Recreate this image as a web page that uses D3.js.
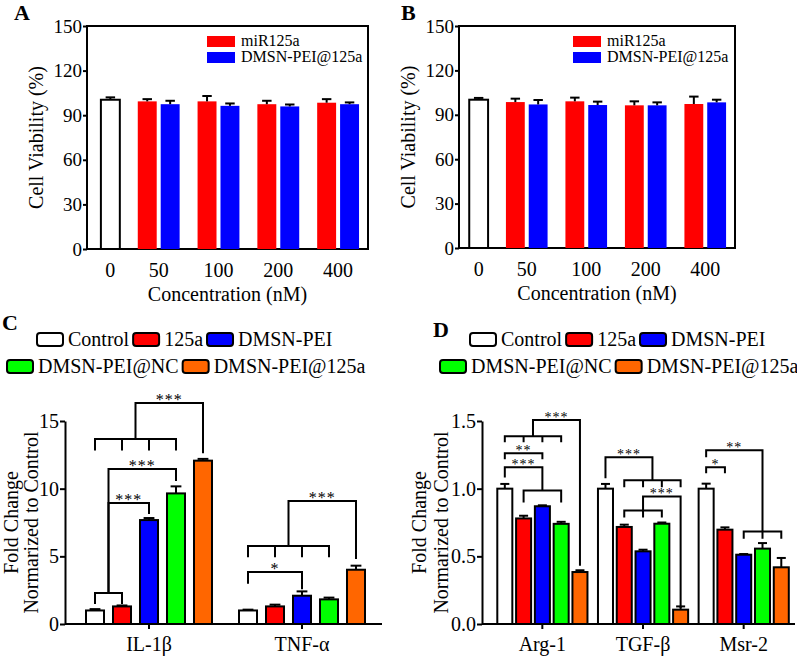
<!DOCTYPE html>
<html>
<head>
<meta charset="UTF-8">
<title>Cell viability and fold change</title>
<script src="https://d3js.org/d3.v7.min.js"></script>
<style>
  * { padding:0; margin:0; }
  body { background:#fff; }
  svg, svg text { font-family: "Liberation Serif", "Tinos", "DejaVu Serif", "Times New Roman", serif !important; fill:#000; }
  .axis path, .axis line { stroke:#000; stroke-width:2px; }
  .axis text { font-size:19px; }
  .br { fill:none; stroke:#000; stroke-width:2px; stroke-linecap:square; }
  .eb { stroke:#000; stroke-width:2px; }
</style>
</head>
<body>
<svg id="main" width="797" height="656"></svg>
<script>
// ---- panels A / B: cell viability ----
const concs = ["0", "50", "100", "200", "400"];
const vSeries = ["miR125a", "DMSN-PEI@125a"];
const vColors = ["#ff0000", "#0000ff"];
const vTicks = [0, 30, 60, 90, 120, 150];

const ctrlA = 100.4, ctrlAErr = 1.6;
const mirA = [99.3, 99.3, 97.4, 98.4];
const mirAErr = [1.5, 3.6, 2.3, 2.4];
const peiA = [97.4, 96.3, 95.9, 97.4];
const peiAErr = [2.3, 1.6, 1.3, 1.2];

const ctrlB = 100.2, ctrlBErr = 1.2;
const mirB = [98.6, 99.1, 96.4, 97.3];
const mirBErr = [2.3, 2.5, 2.7, 5.0];
const peiB = [97.0, 96.6, 96.4, 98.4];
const peiBErr = [3.0, 2.3, 2.0, 1.8];

// ---- panels C / D: fold change ----
const treatments = ["Control", "125a", "DMSN-PEI", "DMSN-PEI@NC", "DMSN-PEI@125a"];
const tColors = ["#ffffff", "#ff0000", "#0000ff", "#00ff00", "#ff6600"];

const genesC = ["IL-1β", "TNF-α"];
const foldC = [[1.0, 1.3, 7.68, 9.65, 12.07], [1.0, 1.3, 2.09, 1.82, 4.01]];
const foldCErr = [[0.1, 0.07, 0.15, 0.52, 0.13], [0.06, 0.13, 0.32, 0.13, 0.3]];

const genesD = ["Arg-1", "TGF-β", "Msr-2"];
const foldD = [[1.0, 0.78, 0.87, 0.74, 0.384], [1.0, 0.717, 0.537, 0.741, 0.106], [1.0, 0.697, 0.512, 0.557, 0.419]];
const foldDErr = [[0.035, 0.02, 0.007, 0.015, 0.013], [0.035, 0.017, 0.012, 0.009, 0.024], [0.037, 0.017, 0.005, 0.041, 0.069]];

// significance brackets (levels in data units)
const sigC = [
  {g: "IL-1β", a: {bars: ["Control", "125a"], y: 2.29, drop: 1.55}, b: {bars: ["DMSN-PEI"], drop: 8.2}, y: 8.94, t: "***"},
  {g: "IL-1β", a: {bars: ["Control", "125a"], y: 2.29, drop: 1.55}, b: {bars: ["DMSN-PEI@NC"], drop: 10.64}, y: 11.46, t: "***"},
  {g: "IL-1β", a: {bars: ["Control", "125a", "DMSN-PEI", "DMSN-PEI@NC"], y: 13.67, drop: 12.9}, b: {bars: ["DMSN-PEI@125a"], drop: 12.7}, y: 16.33, t: "***"},
  {g: "TNF-α", a: {bars: ["Control"], drop: 3.05}, b: {bars: ["DMSN-PEI"], drop: 2.65}, y: 3.84, t: "*"},
  {g: "TNF-α", a: {bars: ["Control", "125a", "DMSN-PEI", "DMSN-PEI@NC"], y: 5.76, drop: 5.0}, b: {bars: ["DMSN-PEI@125a"], drop: 4.88}, y: 9.09, t: "***"}
];
const sigD = [
  {g: "Arg-1", a: {bars: ["Control", "125a", "DMSN-PEI", "DMSN-PEI@NC"], y: 1.388, drop: 1.351}, b: {bars: ["DMSN-PEI@125a"], drop: 0.438}, y: 1.507, t: "***"},
  {g: "Arg-1", a: {bars: ["Control"], drop: 1.225}, b: {bars: ["DMSN-PEI"], drop: 1.225}, y: 1.262, t: "**"},
  {g: "Arg-1", a: {bars: ["Control"], drop: 1.09}, b: {bars: ["125a", "DMSN-PEI@NC"], y: 0.987, drop: 0.906}, y: 1.158, t: "***"},
  {g: "TGF-β", a: {bars: ["Control"], drop: 1.084}, b: {bars: ["125a", "DMSN-PEI", "DMSN-PEI@NC", "DMSN-PEI@125a"], y: 1.062, drop: 1.017}, y: 1.232, t: "***"},
  {g: "TGF-β", a: {bars: ["125a", "DMSN-PEI", "DMSN-PEI@NC"], y: 0.839, drop: 0.794}, b: {bars: ["DMSN-PEI@125a"], drop: 0.126}, y: 0.943, t: "***"},
  {g: "Msr-2", a: {bars: ["Control"], drop: 1.121}, b: {bars: ["125a"], drop: 1.121}, y: 1.158, t: "*"},
  {g: "Msr-2", a: {bars: ["Control"], drop: 1.24}, b: {bars: ["DMSN-PEI", "DMSN-PEI@NC", "DMSN-PEI@125a"], y: 0.683, drop: 0.638}, y: 1.284, t: "**"}
];

const svg = d3.select("#main");

function errorBar(g, cx, w, y0, y1) {
    g.append("line").attr("class", "eb").attr("x1", cx).attr("x2", cx).attr("y1", y0).attr("y2", y1);
    g.append("line").attr("class", "eb").attr("x1", cx - w / 2).attr("x2", cx + w / 2).attr("y1", y1).attr("y2", y1);
}

function viability(o) {
    const g = svg.append("g");
    const y = d3.scaleLinear().domain([0, 150]).range([o.bottom, o.top]);
    const x0 = d3.scaleBand().domain(concs).range([o.right - 5 * o.step, o.right]);
    const x1 = d3.scaleBand().domain(vSeries).range([0.15 * o.step, 0.85 * o.step]).paddingInner(0.174);
    const bw = x1.bandwidth();

    // frame
    g.append("rect").attr("x", o.left).attr("y", o.top)
        .attr("width", o.right - o.left).attr("height", o.bottom - o.top)
        .attr("fill", "none").attr("stroke", "#000").attr("stroke-width", 2);

    // control bar sits in the second slot of its group
    const cxCtrl = x0("0") + x1(vSeries[1]);
    g.append("rect").attr("x", cxCtrl).attr("y", y(o.ctrl)).attr("width", bw)
        .attr("height", y(0) - y(o.ctrl)).attr("fill", "#fff").attr("stroke", "#000").attr("stroke-width", 2);
    errorBar(g, cxCtrl + bw / 2, bw * 0.5, y(o.ctrl), y(o.ctrl + o.ctrlErr));

    const rows = concs.slice(1).map((c, i) => ({c, vals: [[o.mir[i], o.mirErr[i]], [o.pei[i], o.peiErr[i]]]}));
    rows.forEach(r => {
        r.vals.forEach((v, j) => {
            const xx = x0(r.c) + x1(vSeries[j]);
            g.append("rect").attr("x", xx).attr("y", y(v[0])).attr("width", bw)
                .attr("height", y(0) - y(v[0])).attr("fill", vColors[j]);
            errorBar(g, xx + bw / 2, bw * 0.5, y(v[0]), y(v[0] + v[1]));
        });
    });

    const ya = g.append("g").attr("class", "axis").attr("transform", `translate(${o.left},0)`)
        .call(d3.axisLeft(y).tickValues(vTicks).tickSize(4).tickPadding(1).tickSizeOuter(0));
    ya.select(".domain").remove();

    const xa = g.append("g").attr("class", "axis").attr("transform", `translate(0,${o.bottom})`)
        .call(d3.axisBottom(x0).tickSize(0).tickPadding(14));
    xa.select(".domain").remove();
    xa.selectAll("text").style("font-size", "20px");
    xa.selectAll(".tick").filter(d => d === "0").attr("transform", `translate(${cxCtrl + bw / 2},0)`);

    g.append("text").attr("x", (o.left + o.right) / 2).attr("y", o.bottom + 52)
        .attr("text-anchor", "middle").style("font-size", "20px").text("Concentration (nM)");
    g.append("text").attr("transform", `translate(${o.left - 44},${(o.top + o.bottom) / 2}) rotate(-90)`)
        .attr("text-anchor", "middle").style("font-size", "20px").text("Cell Viability (%)");
    g.append("text").attr("x", o.labX).attr("y", 20).style("font-size", "22px").style("font-weight", "bold").text(o.label);

    // legend
    vSeries.forEach((s, i) => {
        g.append("rect").attr("x", o.legX).attr("y", 36 + i * 16).attr("width", 28).attr("height", 11).attr("fill", vColors[i]);
        g.append("text").attr("x", o.legX + 34).attr("y", 46 + i * 16).style("font-size", "16px").text(s);
    });
}

viability({left: 87, right: 368, top: 26, bottom: 249, step: 59.8, ctrl: ctrlA, ctrlErr: ctrlAErr,
    mir: mirA, mirErr: mirAErr, pei: peiA, peiErr: peiAErr, label: "A", labX: 14, legX: 207});
viability({left: 459, right: 735, top: 26, bottom: 248, step: 59.5, ctrl: ctrlB, ctrlErr: ctrlBErr,
    mir: mirB, mirErr: mirBErr, pei: peiB, peiErr: peiBErr, label: "B", labX: 401, legX: 573});

function foldPanel(o) {
    const g = svg.append("g");
    const y = d3.scaleLinear().domain([0, o.max]).range([624, 421]);
    const x0 = d3.scaleBand().domain(o.genes).range(o.xr);
    const step = x0.step();
    const x1 = d3.scaleBand().domain(treatments).range([o.inner[0] * step, o.inner[1] * step]).paddingInner(o.pad);
    const bw = x1.bandwidth();
    const cx = (gene, t) => x0(gene) + x1(t) + bw / 2;

    o.genes.forEach((gene, gi) => {
        treatments.forEach((t, ti) => {
            const v = o.vals[gi][ti], e = o.errs[gi][ti];
            errorBar(g, cx(gene, t), bw * 0.6, y(v), y(v + e));
            g.append("rect").attr("x", x0(gene) + x1(t)).attr("y", y(v)).attr("width", bw)
                .attr("height", y(0) - y(v)).attr("fill", tColors[ti]).attr("stroke", "#000").attr("stroke-width", 2);
        });
    });

    const ya = g.append("g").attr("class", "axis").attr("transform", `translate(${o.axisX},0)`)
        .call(d3.axisLeft(y).tickValues(o.ticks).tickFormat(o.fmt).tickSize(5).tickPadding(1).tickSizeOuter(0));
    ya.selectAll("text").style("font-size", "20px");
    const xa = g.append("g").attr("class", "axis").attr("transform", "translate(0,624)")
        .call(d3.axisBottom(x0).tickSize(5).tickPadding(8).tickSizeOuter(0));
    xa.select(".domain").attr("d", `M${o.axisX},0H${o.axisEnd}`);
    xa.selectAll("text").style("font-size", "20px");

    // y label, two lines
    const mid = (421 + 624) / 2;
    g.append("text").attr("transform", `translate(${o.yl[0]},${mid}) rotate(-90)`)
        .attr("text-anchor", "middle").style("font-size", "20px").text("Fold Change");
    g.append("text").attr("transform", `translate(${o.yl[1]},${mid}) rotate(-90)`)
        .attr("text-anchor", "middle").style("font-size", "20px").text("Normarized to Control");

    // brackets
    o.sig.forEach(s => {
        const at = e => (cx(s.g, e.bars[0]) + cx(s.g, e.bars[e.bars.length - 1])) / 2;
        const xa2 = at(s.a), xb2 = at(s.b), yy = y(s.y);
        let d = `M${xa2},${yy}H${xb2}`;
        [s.a, s.b].forEach(e => {
            const xe = at(e);
            if (e.y == null) {
                d += `M${xe},${yy}V${y(e.drop)}`;
            } else {
                d += `M${xe},${yy}V${y(e.y)}`;
                d += `M${cx(s.g, e.bars[0])},${y(e.y)}H${cx(s.g, e.bars[e.bars.length - 1])}`;
                e.bars.forEach(n => { d += `M${cx(s.g, n)},${y(e.y)}V${y(e.drop)}`; });
            }
        });
        g.append("path").attr("class", "br").attr("d", d);
        g.append("text").attr("x", (xa2 + xb2) / 2).attr("y", yy + 2).attr("text-anchor", "middle")
            .style("font-size", o.starSize + "px").style("letter-spacing", "1px").text(s.t);
    });

    g.append("text").attr("x", o.labX).attr("y", o.labY).style("font-size", "22px").style("font-weight", "bold").text(o.label);

    // legend in two rows
    const rowsL = [[0, 1, 2], [3, 4]];
    rowsL.forEach((row, ri) => {
        let xx = o.legX[ri];
        const ry = ri === 0 ? 333 : 360;
        row.forEach(ti => {
            g.append("rect").attr("x", xx).attr("y", ry).attr("width", 26).attr("height", 13).attr("rx", 3)
                .attr("fill", tColors[ti]).attr("stroke", "#000").attr("stroke-width", 2);
            const t = g.append("text").attr("x", xx + 31).attr("y", ry + 13).style("font-size", "20px").text(treatments[ti]);
            xx += 31 + t.node().getComputedTextLength() + 4;
        });
    });
}

foldPanel({genes: genesC, vals: foldC, errs: foldCErr, max: 15, ticks: [0, 5, 10, 15], fmt: d3.format("d"),
    xr: [72.5, 378.5], inner: [13.5 / 153, 139.5 / 153], pad: 0.333, axisX: 65, axisEnd: 382,
    yl: [18, 38], sig: sigC, starSize: 16, label: "C", labX: 2, labY: 330, legX: [37, 7]});
foldPanel({genes: genesD, vals: foldD, errs: foldDErr, max: 1.5, ticks: [0, 0.5, 1.0, 1.5], fmt: d3.format(".1f"),
    xr: [492, 794], inner: [5.3 / 100.7, 95.5 / 100.7], pad: 0.2, axisX: 482, axisEnd: 795,
    yl: [426, 448], sig: sigD, starSize: 14, label: "D", labX: 433, labY: 337, legX: [470, 440]});
</script>
</body>
</html>
